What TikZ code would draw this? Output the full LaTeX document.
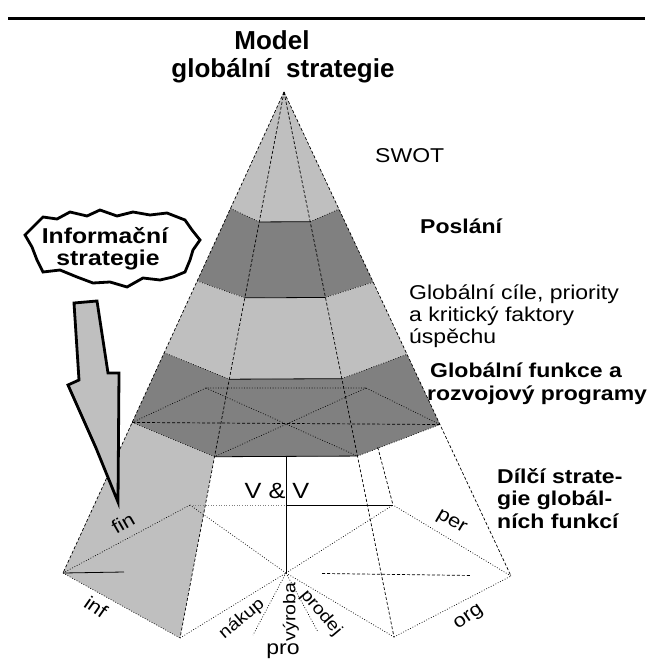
\documentclass[tikz,border=0pt]{standalone}
\usepackage{fontspec}
\setmainfont{Liberation Sans}[FakeStretch=1.15]
\newfontfamily\headfont{Liberation Sans}
\usetikzlibrary{calc}
\definecolor{lightg}{gray}{0.75}
\definecolor{darkg}{gray}{0.5}

\begin{document}
\begin{tikzpicture}[x=1pt,y=-1pt,
  edge/.style={line width=0.7pt, dash pattern=on 3pt off 2pt},
  seam/.style={line width=0.7pt, dash pattern=on 0.8pt off 1.8pt},
  rim/.style={line width=0.8pt},
  txt/.style={inner sep=0pt, font=\fontsize{20}{24}\selectfont},
  btxt/.style={inner sep=0pt, font=\fontsize{20}{24}\selectfont\bfseries},
  lab/.style={inner sep=0pt, font=\fontsize{17}{20}\selectfont},
  biglab/.style={inner sep=0pt, font=\fontsize{19}{22}\selectfont},
  heavy/.style={line width=2.8pt, line join=miter},
  headtxt/.style={inner sep=0pt, anchor=base, font={\headfont\bfseries\fontsize{26}{30}\selectfont}}
]
\useasboundingbox (0,0) rectangle (654,666);

% rule across the top of the page
\coordinate (ruleL) at (8,19);
\coordinate (ruleR) at (645,19);
\draw[line width=3pt] (ruleL) -- (ruleR);

% apex and base hexagon of the pyramid
\coordinate (A)  at (284,92);
\coordinate (L)  at (63,573);
\coordinate (BL) at (180,638);
\coordinate (BR) at (394,637);
\coordinate (R)  at (511,576);
\coordinate (TR) at (393,505);
\coordinate (TL) at (190,505);
\coordinate (C)  at (286,573);

% cross sections between the layers
\foreach \k/\to/\ti in {1/0.242/0.238, 2/0.393/0.377, 3/0.542/0.526, 4/0.687/0.668}{
  \coordinate (ol\k) at ($(A)!\to!(L)$);
  \coordinate (il\k) at ($(A)!\ti!(BL)$);
  \coordinate (ir\k) at ($(A)!\ti!(BR)$);
  \coordinate (or\k) at ($(A)!\to!(R)$);
}

% layers
\fill[lightg] (A) -- (ol1) -- (il1) -- (ir1) -- (or1) -- cycle;
\fill[darkg] (ol1) -- (il1) -- (ir1) -- (or1) -- (or2) -- (ir2) -- (il2) -- (ol2) -- cycle;
\fill[lightg] (ol2) -- (il2) -- (ir2) -- (or2) -- (or3) -- (ir3) -- (il3) -- (ol3) -- cycle;
\fill[darkg] (ol3) -- (il3) -- (ir3) -- (or3) -- (or4) -- (ir4) -- (il4) -- (ol4) -- cycle;
\fill[lightg] (ol4) -- (il4) -- (BL) -- (L) -- cycle;

% hexagon inside the lowest dark layer
\coordinate (tl4) at (206,388);
\coordinate (tr4) at (366,388);
\draw[seam] (ol4) -- (tl4) -- (tr4) -- (or4);
\draw[seam] (tl4) -- (ir4);
\draw[seam] (tr4) -- (il4);
\draw[edge] (ol4) -- (or4);

% layer borders
\foreach \k in {1,...,4}{
  \draw[rim] (il\k) -- (ir\k);
  \draw[seam] (ol\k) -- (il\k);
  \draw[seam] (ir\k) -- (or\k);
}

% edges of the pyramid
\draw[edge] (A) -- (L);
\draw[edge] (A) -- (BL);
\draw[edge] (A) -- (BR);
\draw[edge] (A) -- (R);
\draw[edge] ($(A)!0.86!(TR)$) -- (TR);

% base: sectors of the partial strategies
\coordinate (nk) at (253,635);
\coordinate (pd) at (318,632);
\draw[seam] (L) -- (TL);
\draw[seam] (L) -- (BL);
\draw[seam] (BL) -- (C);
\draw[seam] (C) -- (BR);
\draw[seam] (BR) -- (R);
\draw[seam] (R) -- (TR);
\draw[seam] (C) -- (TL);
\draw[seam] (C) -- (TR);
\draw[seam] (C) -- (nk);
\draw[seam] (C) -- (pd);
\draw[edge] ($(C)!0.16!(R)$) -- ($(C)!0.82!(R)$);
\coordinate (Lh) at (124,572);
\draw[rim] (L) -- (Lh);
\coordinate (M) at (C |- TR);
\draw[seam, gray] (TL) -- (M);
\draw[rim] (M) -- (TR);
\coordinate (vtop) at ($(il4)!0.5!(ir4)$);
\draw[rim] (C |- vtop) -- (C);

% titles
\node[headtxt] (model) at (272,50) {Model};
\node[headtxt] (gstrat) at (283,78) {globální\hspace{0.3em} strategie};

% layer names
\node[txt, anchor=base west] (swot) at (375,162) {SWOT};
\node[btxt, anchor=base west] (poslani) at (420,233) {Poslání};
\node[txt, anchor=base west] (cile1) at (409,299) {Globální cíle, priority};
\node[txt, anchor=base west] (cile2) at (409,321) {a kritický faktory};
\node[txt, anchor=base west] (cile3) at (409,343) {úspěchu};
\node[btxt, anchor=base west] (funk1) at (430,377) {Globální funkce a};
\node[btxt, anchor=base west] (funk2) at (427,400) {rozvojový programy};
\node[btxt, anchor=base west] (dilci1) at (497,483) {Dílčí strate-};
\node[btxt, anchor=base west] (dilci2) at (497,505) {gie globál-};
\node[btxt, anchor=base west] (dilci3) at (497,528) {ních funkcí};

% labels of the base
\node[inner sep=0pt, anchor=base, font=\fontsize{22}{26}\selectfont] (vv) at (277,498) {V \& V};
\node[biglab, rotate=30] (fin) at (123,523) {fin};
\node[biglab, rotate=-35] (inf) at (96,607) {inf};
\node[lab, rotate=40] (nakup) at (242,619) {nákup};
\node[lab, rotate=90] (vyroba) at (291,612) {výroba};
\node[lab, rotate=-50] (prodej) at (321,613) {prodej};
\node[txt] (pro) at (283,651) {pro};
\node[biglab, rotate=35] (org) at (469,618) {org};
\node[biglab, rotate=-30] (per) at (451,523) {per};

% arrow of the information strategy
\filldraw[fill=lightg, heavy] (74,303) -- (97,301) -- (108,373) -- (119,373) -- (118,502)
  -- (96,448) -- (68,385) -- (79,380) -- cycle;

% cloud
\draw[heavy, fill=white] (33,227) -- (43,217) -- (57,219) -- (70,212) -- (87,216) -- (100,210)
  -- (117,216) -- (133,212) -- (150,215) -- (167,213) -- (185,220) -- (192,230) -- (200,240)
  -- (193,250) -- (190,260) -- (185,272) -- (173,277) -- (160,280) -- (143,278) -- (127,287)
  -- (110,282) -- (93,283) -- (77,277) -- (60,270) -- (43,272) -- (37,260) -- (32,247)
  -- (25,235) -- cycle;
\node[inner sep=0pt, anchor=base, font=\fontsize{21.5}{25}\selectfont\bfseries] (info1) at (105,243) {Informační};
\node[inner sep=0pt, anchor=base, font=\fontsize{21.5}{25}\selectfont\bfseries] (info2) at (108,265) {strategie};
\end{tikzpicture}
\end{document}
